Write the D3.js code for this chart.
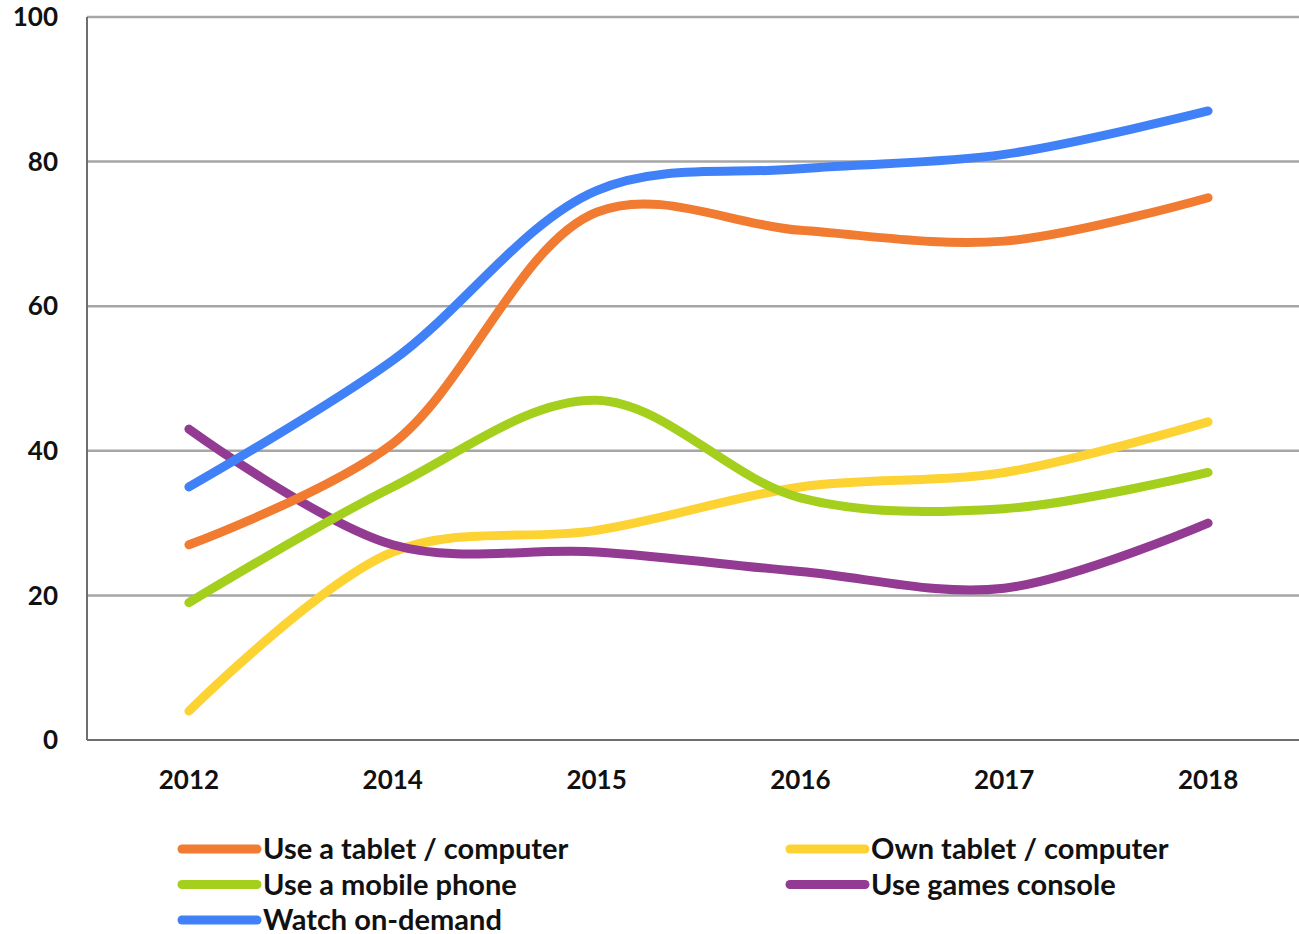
<!DOCTYPE html>
<html>
<head>
<meta charset="utf-8">
<script src="https://cdn.jsdelivr.net/npm/d3@7"></script>
<style>
  body { margin: 0; background: #fff; }
  #chart { width: 1299px; height: 934px; }
  text { font-family: Lato, "Liberation Sans", sans-serif; font-weight: bold; fill: #111; }
</style>
</head>
<body>
<div id="chart"></div>
<script>
var years = ['2012', '2014', '2015', '2016', '2017', '2018'];
var yTicks = [0, 20, 40, 60, 80, 100];

var useTablet = [27, 41, 73, 70.5, 69, 75];
var ownTablet = [4, 26, 29, 35, 37, 44];
var usePhone = [19, 35, 47, 33.5, 32, 37];
var useConsole = [43, 27, 26, 23.3, 21, 30];
var watchOnDemand = [35, 52.5, 76, 79, 81, 87];

var seriesNames = ['Use a tablet / computer', 'Own tablet / computer', 'Use a mobile phone', 'Use games console', 'Watch on-demand'];
var seriesColors = ['#f07b31', '#fdd334', '#a4cf1c', '#933a93', '#4081f8'];
var seriesValues = [useTablet, ownTablet, usePhone, useConsole, watchOnDemand];

var width = 1299, height = 934;
var plotLeft = 87, plotTop = 17, plotBottom = 740, plotRight = 1310;

var svg = d3.select('#chart')
	.append('svg')
	.attr('width', width)
	.attr('height', height);

var x = d3.scalePoint().domain(years).range([plotLeft, plotRight]).padding(0.5);
var y = d3.scaleLinear().domain([0, 100]).range([plotBottom, plotTop]);

// gridlines
svg.append('g').selectAll('line')
	.data(yTicks.filter(function(d) { return d > 0; }))
	.enter().append('line')
	.attr('x1', plotLeft).attr('x2', width)
	.attr('y1', function(d) { return y(d); })
	.attr('y2', function(d) { return y(d); })
	.style('stroke', '#a6a6a6')
	.style('stroke-width', 2.5);

// axes lines
svg.append('line')
	.attr('x1', plotLeft).attr('x2', plotLeft)
	.attr('y1', y(100)).attr('y2', y(0))
	.style('stroke', '#6e6e6e').style('stroke-width', 2);
svg.append('line')
	.attr('x1', plotLeft).attr('x2', width)
	.attr('y1', y(0)).attr('y2', y(0))
	.style('stroke', '#6e6e6e').style('stroke-width', 2);

// y labels
svg.append('g').selectAll('text')
	.data(yTicks)
	.enter().append('text')
	.attr('x', 58)
	.attr('y', function(d) { return y(d); })
	.attr('dy', '0.35em')
	.attr('text-anchor', 'end')
	.style('font-size', '26px')
	.text(function(d) { return d; });

// x labels
svg.append('g').selectAll('text')
	.data(years)
	.enter().append('text')
	.attr('x', function(d) { return x(d); })
	.attr('y', 780)
	.attr('dy', '0.35em')
	.attr('text-anchor', 'middle')
	.style('font-size', '26px')
	.text(function(d) { return d; });

var line = d3.line()
	.x(function(d, i) { return x(years[i]); })
	.y(function(d) { return y(d); })
	.curve(d3.curveCatmullRom);

var drawOrder = [1, 3, 2, 0, 4];
drawOrder.forEach(function(k) {
	svg.append('path')
		.datum(seriesValues[k])
		.attr('d', line)
		.style('fill', 'none')
		.style('stroke', seriesColors[k])
		.style('stroke-width', 9)
		.style('stroke-linecap', 'round')
		.style('stroke-linejoin', 'round');
});

// legend
var legendPos = [[0, 0], [1, 0], [0, 1], [1, 1], [0, 2]];
var legend = svg.append('g').selectAll('g')
	.data(seriesNames)
	.enter().append('g')
	.attr('transform', function(d, i) {
		return 'translate(' + (182 + legendPos[i][0] * 608) + ',' + (849 + legendPos[i][1] * 35.5) + ')';
	});
legend.append('line')
	.attr('x1', 0).attr('x2', 75)
	.attr('y1', 0).attr('y2', 0)
	.style('stroke', function(d, i) { return seriesColors[i]; })
	.style('stroke-width', 9)
	.style('stroke-linecap', 'round');
legend.append('text')
	.attr('x', 81)
	.attr('y', 0)
	.attr('dy', '0.35em')
	.style('font-size', '29px')
	.text(function(d) { return d; });
</script>
</body>
</html>
